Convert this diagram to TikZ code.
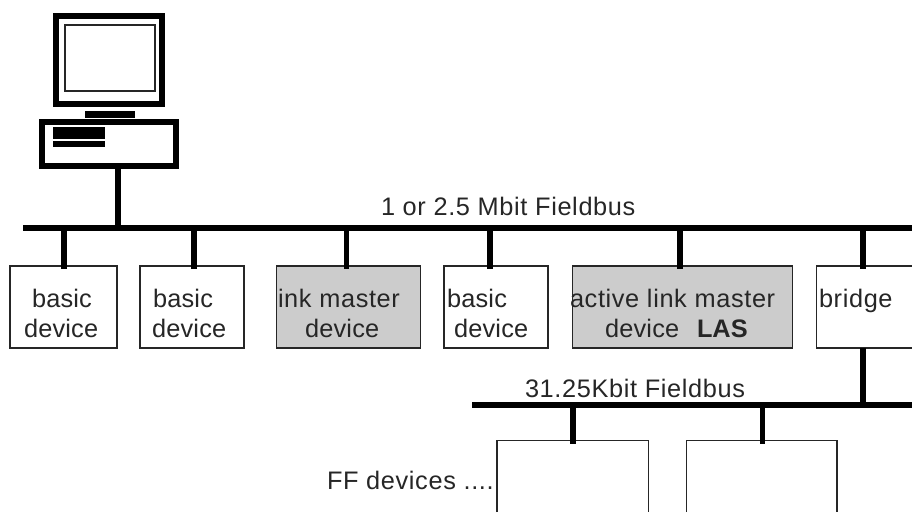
\documentclass[tikz,border=0pt]{standalone}
\usepackage{fontspec}
\setmainfont{Liberation Sans}
\tikzset{
  px/.style={x=0.75pt,y=-0.75pt},
  device/.style={draw=black!85,line width=1.4pt,inner sep=0pt,outer sep=0pt,anchor=north west,fill=white},
  master/.style={device,fill=black!20},
  lbl/.style={anchor=base west,inner sep=0pt,outer sep=0pt,font=\fontsize{19}{19}\selectfont\addfontfeature{LetterSpace=2.5},text=black!85},
  lbltight/.style={lbl,font=\fontsize{19}{19}\selectfont\addfontfeature{LetterSpace=0.8}},
  busline/.style={line width=4.5pt,line cap=butt},
  stub/.style={line width=4.4pt,line cap=butt},
  thick frame/.style={draw=black,line width=4.2pt},
  solid part/.style={fill=black,draw=none,inner sep=0pt,outer sep=0pt,anchor=north west}
}
\newcommand{\devbox}[6]{\node[#1,minimum width=#5*0.75pt,minimum height=#6*0.75pt] (#2) at (#3,#4) {};}
\begin{document}
\begin{tikzpicture}[px]
\useasboundingbox (0,0) rectangle (912,512);
% computer
\node[thick frame,inner sep=0pt,outer sep=0pt,anchor=north west,minimum width=106*0.75pt,minimum height=88*0.75pt] (monitor) at (56,16) {};
\node[draw=black!85,line width=1.5pt,inner sep=0pt,outer sep=0pt,anchor=north west,minimum width=90*0.75pt,minimum height=66*0.75pt] (screen) at (64.5,24.5) {};
\node[solid part,minimum width=50*0.75pt,minimum height=6.5*0.75pt] (stand) at (85,111) {};
\node[thick frame,inner sep=0pt,outer sep=0pt,anchor=north west,minimum width=134*0.75pt,minimum height=44*0.75pt] (base) at (42,122) {};
\node[solid part,minimum width=52*0.75pt,minimum height=12*0.75pt] (slotA) at (53,127) {};
\node[solid part,minimum width=52*0.75pt,minimum height=6*0.75pt] (slotB) at (53,141) {};
% buses
\coordinate (busLa) at (23,228);
\coordinate (busLb) at (912,228);
\coordinate (busSa) at (472,404.5);
\coordinate (busSb) at (912,404.5);
% device boxes
\devbox{device}{d1}{10}{266}{107}{82}
\devbox{device}{d2}{140}{266}{104}{82}
\devbox{master}{d3}{276.5}{266}{144}{82}
\devbox{device}{d4}{444}{266}{104}{82}
\devbox{master}{d5}{572.5}{266}{220}{82}
\devbox{device}{d6}{816.5}{266}{110}{82}
% stubs
\foreach \n/\sx in {d1/64,d2/194,d3/346.5,d4/490,d5/680,d6/863}{
  \draw[stub] (\sx,228) coordinate (top\n) -- (\sx,269) coordinate (end\n);
}
\draw[stub] (118,166) coordinate (pc) -- (pc |- busLa);
\draw[stub] (d6.south -| topd6) -- (topd6 |- busSa);
% lower bus open boxes
\coordinate (f1a) at (497,512); \coordinate (f1b) at (497,440.5); \coordinate (f1c) at (648.5,440.5); \coordinate (f1d) at (648.5,512);
\coordinate (f2a) at (686.5,512); \coordinate (f2b) at (686.5,440.5); \coordinate (f2c) at (837,440.5); \coordinate (f2d) at (837,512);
\draw[draw=black!85,line width=1.4pt] (f1a) -- (f1b) -- (f1c) -- (f1d);
\draw[draw=black!85,line width=1.4pt] (f2a) -- (f2b) -- (f2c) -- (f2d);
\coordinate (fs1) at (573,443.5); \coordinate (fs2) at (762.5,443.5);
\draw[stub] (fs1 |- busSa) -- (fs1);
\draw[stub] (fs2 |- busSa) -- (fs2);
\draw[busline] (busLa) -- (busLb);
\draw[busline] (busSa) -- (busSb);
% labels
\node[lbltight] (t1a) at (32,307) {basic};
\node[lbltight] (t1b) at (24,337) {device};
\node[lbltight] (t2a) at (153,307) {basic};
\node[lbltight] (t2b) at (152,337) {device};
\node[lbl] (t3a) at (278,307) {ink master};
\node[lbltight] (t3b) at (305,337) {device};
\node[lbltight] (t4a) at (447,307) {basic};
\node[lbltight] (t4b) at (454,337) {device};
\node[lbl] (t5a) at (570,307) {active link master};
\node[lbltight] (t5b) at (605,337) {device};
\node[lbl,font=\fontsize{19}{19}\selectfont\bfseries] (t5c) at (697,337) {LAS};
\node[lbl] (t6a) at (819,307) {bridge};
\node[lbl] (tbusL) at (381,215) {1 or 2.5 Mbit Fieldbus};
\node[lbl] (tbusS) at (525,397) {31.25Kbit Fieldbus};
\node[lbl] (tff) at (327,489) {FF devices ....};
\end{tikzpicture}
\end{document}
